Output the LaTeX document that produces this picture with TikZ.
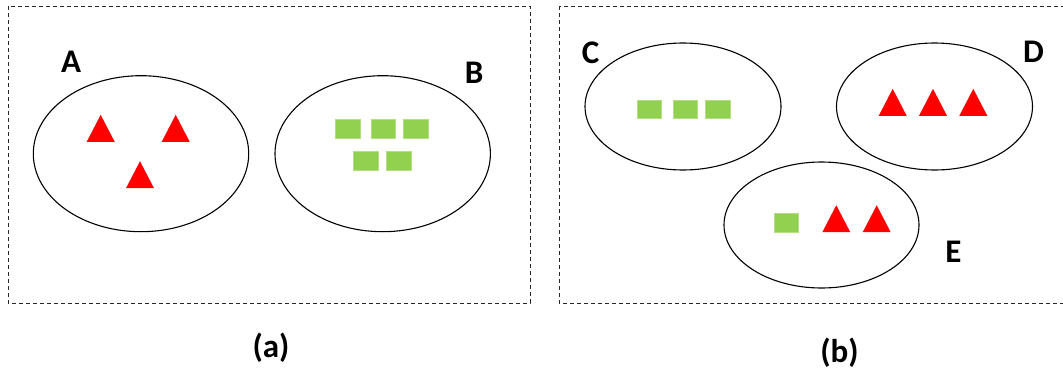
\documentclass[tikz,border=0pt]{standalone}
\usepackage{fontspec}
\setmainfont{Carlito}
\usetikzlibrary{shapes.geometric}
\definecolor{tred}{HTML}{FF0000}
\definecolor{sgreen}{HTML}{92D050}
\tikzset{
  frame/.style={draw=black!85, line width=1pt, dash pattern=on 4.3pt off 2.7pt},
  ell/.style={ellipse, draw=black, line width=1.1pt, inner sep=0pt},
  sq/.style={rectangle, fill=sgreen, draw=sgreen!70!white, line width=0.4pt, inner sep=0pt, minimum width=24.7pt, minimum height=18.7pt},
  lbl/.style={inner sep=0pt, font=\fontsize{33}{40}\selectfont\bfseries},
  tri/.pic={\fill[tred] (-14,13.5) -- (0,-13.5) -- (14,13.5) -- cycle;}
}
\begin{document}
\begin{tikzpicture}[x=1pt,y=-1pt]
\useasboundingbox (0,0) rectangle (1063,372);
% frames
\draw[frame] (8,6) rectangle (530,303);
\draw[frame] (559,6) rectangle (1075,303);
% panel (a)
\node[ell, minimum width=215.4pt, minimum height=156pt] (A) at (141,153.7) {};
\node[ell, minimum width=215.4pt, minimum height=156pt] (B) at (382.7,153.7) {};
\node[lbl] (lA) at (71,62) {A};
\node[lbl] (lB) at (474,73) {B};
\pic (ta1) at (100.7,128.3) {tri};
\pic (ta2) at (175.7,128.3) {tri};
\pic (ta3) at (140,174.7) {tri};
\node[sq] (b1) at (347.7,128.7) {};
\node[sq] (b2) at (383.3,128.7) {};
\node[sq] (b3) at (415.7,128.7) {};
\node[sq] (b4) at (365.7,160.8) {};
\node[sq] (b5) at (398.7,160.8) {};
\node[lbl] (la) at (271,348) {(a)};
% panel (b)
\node[ell, minimum width=196pt, minimum height=127pt] (C) at (683,106.5) {};
\node[ell, minimum width=196pt, minimum height=127pt] (D) at (934.5,106.5) {};
\node[ell, minimum width=195pt, minimum height=126pt] (E) at (821.5,225) {};
\node[lbl] (lC) at (590.5,52.5) {C};
\node[lbl] (lD) at (1033.5,52) {D};
\node[lbl] (lE) at (953.3,252) {E};
\node[sq] (c1) at (649.3,109.2) {};
\node[sq] (c2) at (685.2,109.2) {};
\node[sq] (c3) at (717.7,109.2) {};
\pic (td1) at (892.7,102.3) {tri};
\pic (td2) at (933,102.3) {tri};
\pic (td3) at (973.3,102.3) {tri};
\node[sq] (e1) at (786.3,222.7) {};
\pic (te1) at (836.3,218.7) {tri};
\pic (te2) at (876.7,218.7) {tri};
\node[lbl] (lb) at (839.5,352.5) {(b)};
\end{tikzpicture}
\end{document}
